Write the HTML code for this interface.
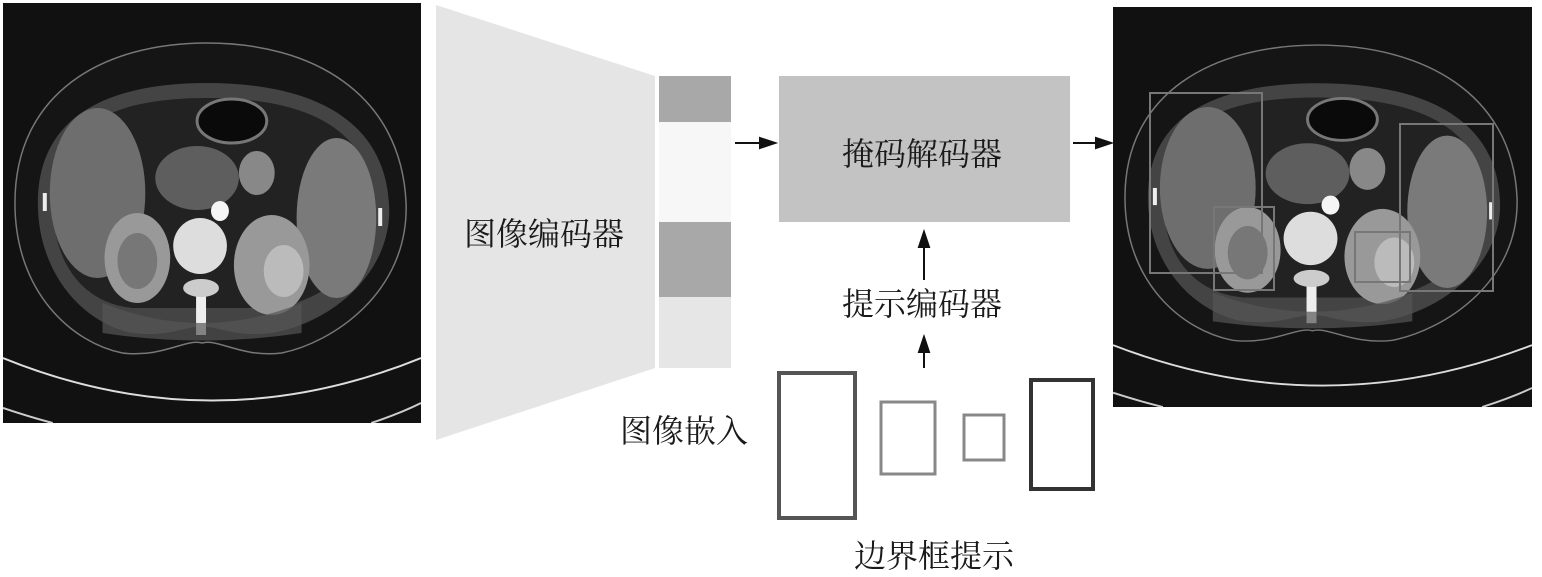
<!DOCTYPE html>
<html><head><meta charset="utf-8"><style>
html,body{margin:0;padding:0;background:#fff;}
body{width:1542px;height:571px;position:relative;overflow:hidden;font-family:"Liberation Serif","Noto Serif CJK SC","Noto Sans CJK SC",serif;}
.t{position:absolute;font-size:32px;color:#1a1a1a;white-space:nowrap;}
</style></head><body>
<svg width="1542" height="571" style="position:absolute;left:0;top:0">
<defs>
<symbol id="ct" viewBox="0 0 420 420" preserveAspectRatio="none">
<rect width="420" height="420" fill="#111"/>
<path d="M0 355 Q210 440 420 355" stroke="#ddd" stroke-width="2" fill="none"/>
<path d="M0 405 Q30 415 50 420" stroke="#ccc" stroke-width="2" fill="none"/>
<path d="M370 420 Q400 410 420 400" stroke="#ccc" stroke-width="2" fill="none"/>
<path d="M12 200 C12 90 100 40 205 40 C310 40 400 90 405 200 C408 290 330 340 280 350 C240 355 215 335 200 340 C185 335 160 355 120 350 C70 340 12 290 12 200Z" stroke="#777" stroke-width="1.5" fill="#151515"/>
<path d="M35 200 C35 110 110 80 205 80 C300 80 385 110 388 205 C390 270 330 320 270 330 C230 335 210 320 200 325 C190 320 170 335 130 330 C80 320 35 270 35 200Z" fill="#444"/>
<path d="M50 200 C50 120 115 95 205 95 C295 95 372 120 372 205 C372 260 320 300 270 305 L130 305 C80 300 50 260 50 200Z" fill="#222"/>
<ellipse cx="95" cy="190" rx="48" ry="85" fill="#6e6e6e"/>
<ellipse cx="335" cy="215" rx="40" ry="80" fill="#7a7a7a"/>
<ellipse cx="195" cy="175" rx="42" ry="32" fill="#5e5e5e"/>
<ellipse cx="230" cy="118" rx="35" ry="22" fill="#0a0a0a" stroke="#777" stroke-width="3"/>
<ellipse cx="255" cy="170" rx="18" ry="22" fill="#888"/>
<ellipse cx="135" cy="255" rx="33" ry="45" fill="#999"/>
<ellipse cx="135" cy="258" rx="20" ry="28" fill="#777"/>
<ellipse cx="270" cy="262" rx="38" ry="50" fill="#999"/>
<ellipse cx="282" cy="268" rx="20" ry="26" fill="#bbb"/>
<ellipse cx="198" cy="243" rx="27" ry="28" fill="#ddd"/>
<ellipse cx="218" cy="208" rx="9" ry="10" fill="#f5f5f5"/>
<rect x="194" y="280" width="10" height="52" fill="#eee"/>
<ellipse cx="199" cy="285" rx="18" ry="9" fill="#ccc"/>
<path d="M100 300 Q200 340 300 300 L300 330 Q200 345 100 330Z" fill="#555" opacity=".7"/>
<rect x="40" y="190" width="4" height="18" fill="#eee"/>
<rect x="377" y="205" width="4" height="18" fill="#eee"/>
</symbol>
</defs>
<use href="#ct" x="3" y="3" width="418" height="420"/>
<use href="#ct" x="1113" y="7" width="419" height="400"/>
<g fill="none" stroke="#777" stroke-width="2">
<rect x="1150" y="93" width="112" height="180"/>
<rect x="1214" y="207" width="60" height="83"/>
<rect x="1400" y="124" width="93" height="167"/>
<rect x="1355" y="232" width="55" height="50"/>
</g>
<polygon points="436,5 655,76 655,368 436,440" fill="#e5e5e5"/>
<rect x="659" y="76" width="72" height="46" fill="#a8a8a8"/>
<rect x="659" y="122" width="72" height="100" fill="#f7f7f7"/>
<rect x="659" y="222" width="72" height="75" fill="#a8a8a8"/>
<rect x="659" y="297" width="72" height="71" fill="#e6e6e6"/>
<rect x="779" y="76" width="291" height="146" fill="#c3c3c3"/>
<g stroke="#111" stroke-width="2" fill="#111">
<line x1="735" y1="143" x2="762" y2="143"/><polygon points="775,143 760,138 760,148"/>
<line x1="1073" y1="143" x2="1098" y2="143"/><polygon points="1111,143 1096,138 1096,148"/>
<line x1="924" y1="280" x2="924" y2="245"/><polygon points="924,232 919,247 929,247"/>
<line x1="924" y1="368" x2="924" y2="350"/><polygon points="924,337 919,352 929,352"/>
</g>
<rect x="779" y="373" width="76" height="145" fill="none" stroke="#555" stroke-width="4"/>
<rect x="881" y="402" width="54" height="72" fill="none" stroke="#888" stroke-width="3"/>
<rect x="964" y="415" width="40" height="45" fill="none" stroke="#888" stroke-width="3"/>
<rect x="1031" y="380" width="62" height="109" fill="none" stroke="#333" stroke-width="4"/>
</svg>
<div class="t" style="left:464px;top:209px">图像编码器</div>
<div class="t" style="left:842px;top:129px">掩码解码器</div>
<div class="t" style="left:842px;top:279px">提示编码器</div>
<div class="t" style="left:620px;top:406px">图像嵌入</div>
<div class="t" style="left:854px;top:531px">边界框提示</div>
</body></html>
